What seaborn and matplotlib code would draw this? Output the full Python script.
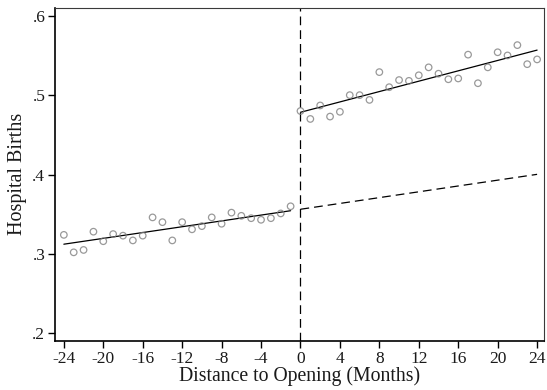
import numpy as np
import pandas as pd
import matplotlib
matplotlib.use("Agg")
import matplotlib.pyplot as plt
import seaborn as sns

# Monthly share of hospital births relative to the opening month
months_pre = list(range(-24, 0))
births_pre = [0.324, 0.302, 0.305, 0.328, 0.316, 0.325, 0.323, 0.317,
              0.323, 0.346, 0.340, 0.317, 0.340, 0.331, 0.335, 0.346,
              0.338, 0.352, 0.348, 0.345, 0.343, 0.345, 0.351, 0.360]
months_post = list(range(0, 25))
births_post = [0.480, 0.470, 0.487, 0.473, 0.479, 0.500, 0.500, 0.494,
               0.529, 0.510, 0.519, 0.518, 0.525, 0.535, 0.527, 0.520,
               0.521, 0.551, 0.515, 0.535, 0.554, 0.550, 0.563, 0.539,
               0.545]

x_ticks = list(range(-24, 25, 4))
y_ticks = [0.2, 0.3, 0.4, 0.5, 0.6]
y_tick_labels = [".2", ".3", ".4", ".5", ".6"]

pre = pd.DataFrame({"month": months_pre, "births": births_pre})
post = pd.DataFrame({"month": months_post, "births": births_post})

sns.set_theme(style="white")
plt.rcParams["font.family"] = ["Liberation Serif", "DejaVu Serif"]

fig = plt.figure(figsize=(5.47, 3.90), dpi=100)
ax = fig.add_axes([0.1005, 0.1256, 0.894, 0.855])

scatter_kw = dict(s=22, facecolors="none", edgecolors="#808080", linewidths=0.9, zorder=3)
line_kw = dict(color="black", linewidth=0.9, zorder=2)

for df in (pre, post):
    sns.regplot(data=df, x="month", y="births", ci=None, ax=ax,
                scatter_kws=scatter_kw, line_kws=line_kw, truncate=True)

# Pre-opening trend projected past the opening
slope, intercept = np.polyfit(pre["month"], pre["births"], 1)
proj_x = np.array([0, 24])
ax.plot(proj_x, intercept + slope * proj_x, color="black", linewidth=0.9,
        linestyle=(0, (7, 4)), zorder=2)

ax.axvline(0, color="black", linewidth=0.9, linestyle=(0, (7, 4)), zorder=1)

ax.set_xlim(-24.9, 24.7)
ax.set_ylim(0.1903, 0.6103)
ax.set_xticks(x_ticks)
ax.set_xticklabels([str(t) for t in x_ticks])
ax.set_yticks(y_ticks)
ax.set_yticklabels(y_tick_labels)

ax.tick_params(axis="both", which="both", direction="out", length=5, width=1.0,
               color="black", labelsize=12.5, pad=2, labelcolor="#1a1a1a")
ax.xaxis.set_ticks_position("bottom")
ax.yaxis.set_ticks_position("left")

for side in ("left", "bottom"):
    ax.spines[side].set_color("black")
    ax.spines[side].set_linewidth(1.2)
for side in ("top", "right"):
    ax.spines[side].set_color("#3a3a3a")
    ax.spines[side].set_linewidth(0.8)

ax.set_xlabel("Distance to Opening (Months)", fontsize=14.2, color="#1a1a1a", labelpad=0)
ax.set_ylabel("Hospital Births", fontsize=14.5, color="#1a1a1a", labelpad=4)

fig.savefig("out.png", dpi=100)
